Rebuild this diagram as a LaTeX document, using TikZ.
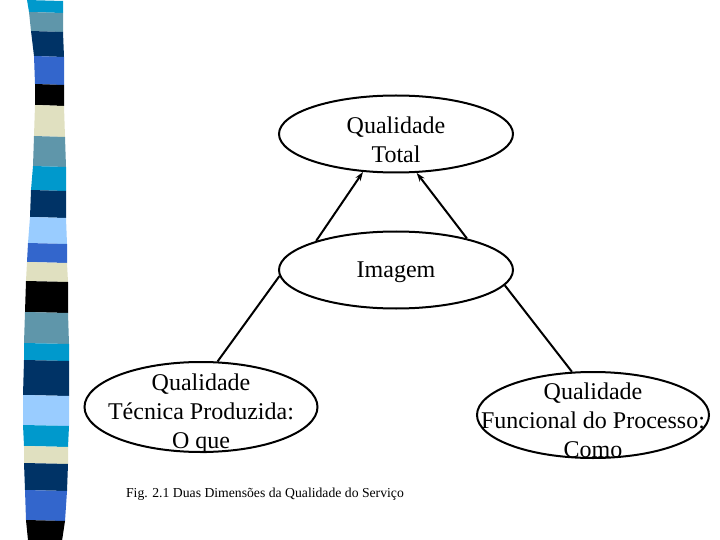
\documentclass[tikz,border=0pt]{standalone}
\usepackage{fontspec}
\setmainfont{Liberation Serif}
\usetikzlibrary{shapes.geometric,arrows.meta}
\definecolor{cyanA}{HTML}{0099CC}
\definecolor{steel}{HTML}{5F96AA}
\definecolor{navy}{HTML}{003366}
\definecolor{royal}{HTML}{3366CC}
\definecolor{beige}{HTML}{E0E0C0}
\definecolor{lightb}{HTML}{99CCFF}
\tikzset{
  oval/.style={ellipse, draw, line width=2pt, inner sep=0pt},
  lbl/.style={align=center, font=\fontsize{24}{29}\selectfont, inner sep=0pt},
  conn/.style={line width=2pt},
  arr/.style={conn, -{Stealth[length=9pt,width=6pt]}},
}
\begin{document}
\begin{tikzpicture}[x=1pt,y=-1pt]
\useasboundingbox (0,0) rectangle (720,540);
% decorative strip
\foreach \ya/\la/\ra/\yb/\lb/\rb/\c in {
 0/27/63/12/29/63/cyanA,
 12/29/63/31/31/63/steel,
 31/31/63/56/34/64/navy,
 56/34/64/84/35/64/royal,
 84/35/64/105/35/64/black,
 105/35/64/136/34/65/beige,
 136/34/65/166/33/66/steel,
 166/33/66/190/31/66/cyanA,
 190/31/66/217/30/66/navy,
 217/30/66/243/28/67/lightb,
 243/28/67/262/27/67/royal,
 262/27/67/281/26/68/beige,
 281/26/68/312/25/68/black,
 312/25/68/343/24/69/steel,
 343/24/69/360/24/69/cyanA,
 360/24/69/395/23/69/navy,
 395/23/69/425/23/69/lightb,
 425/23/69/446/24/68/cyanA,
 446/24/68/463/24/68/beige,
 463/24/68/490/25/67/navy,
 490/25/67/520/26/65/royal,
 520/26/65/540/28/62/black}
 \fill[\c] (\la,\ya) -- (\ra,\ya+1) -- (\rb,\yb+1) -- (\lb,\yb) -- cycle;

% ellipses
\node[oval, minimum width=234pt, minimum height=77pt] (tot) at (396,134) {};
\node[oval, minimum width=234pt, minimum height=77pt] (img) at (396,270) {};
\node[oval, minimum width=233pt, minimum height=90pt] (tec) at (201,407) {};
\node[oval, minimum width=232pt, minimum height=86pt] (fun) at (593,415) {};

\node[lbl] (ttot) at (396,140) {Qualidade\\Total};
\node[lbl] (timg) at (396,272) {Imagem};
\node[lbl] (ttec) at (201,414) {Qualidade\\Técnica Produzida:\\O que};
\node[lbl] (tfun) at (593,420) {Qualidade\\Funcional do Processo:\\Como};

% connectors
\draw[arr] (img.160.7) -- (tot.229.8);
\draw[arr] (img.24.6) -- (tot.298.3);
\draw[conn] (tec.70) -- (img.183.5);
\draw[conn] (fun.116) -- (img.352);

\node[font=\fontsize{13.7}{16}\selectfont, inner sep=0pt] (cap) at (265,494) {Fig. 2.1 Duas Dimensões da Qualidade do Serviço};
\end{tikzpicture}
\end{document}
